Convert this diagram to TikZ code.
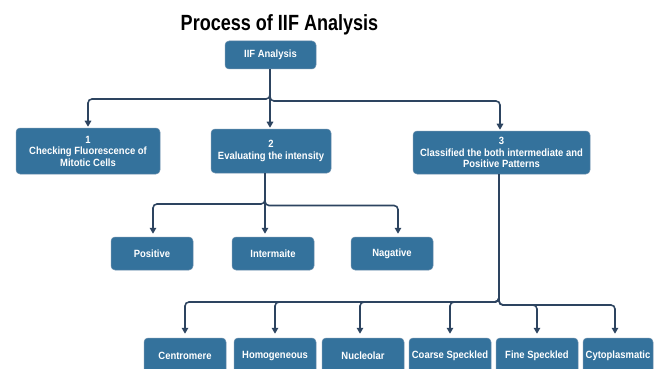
\documentclass[tikz,border=0pt]{standalone}
\usepackage{fontspec}
\setmainfont[FakeStretch=0.9]{Liberation Sans}
\newfontfamily\titlefont[FakeStretch=0.82]{Liberation Sans}
\usetikzlibrary{arrows.meta}
\definecolor{boxblue}{RGB}{52,114,156}
\definecolor{linec}{RGB}{45,68,96}
\definecolor{boxedge}{RGB}{110,145,175}
\tikzset{
  box/.style={fill=boxblue, draw=boxedge, line width=0.5pt, rounded corners=4pt,
    text=white, font=\fontsize{10.5}{11.5}\selectfont\bfseries, align=center, inner sep=0pt},
  leaf/.style={box, minimum width=82pt, minimum height=33pt},
  bleaf/.style={box, minimum width=82pt, minimum height=36pt},
  conn/.style={draw=linec, line width=1.6pt, rounded corners=4pt,
    -{Triangle[width=6.5pt,length=6pt]}},
}
\begin{document}
\begin{tikzpicture}[x=1pt,y=-1pt]
\useasboundingbox (0,0) rectangle (662,369);
\clip (0,0) rectangle (662,369);
\fill[white] (0,0) rectangle (662,369);

\node[font=\titlefont\fontsize{22}{24}\selectfont\bfseries, anchor=base] (title) at (279.5,31) {Process of IIF Analysis};

\node[box, minimum width=91pt, minimum height=28pt] (iif) at (270.5,55) {IIF Analysis};

\node[box, minimum width=144pt, minimum height=46pt] (b1) at (88,151) {1\\Checking Fluorescence of\\Mitotic Cells};
\node[box, minimum width=120pt, minimum height=44pt] (b2) at (271,151) {2\\Evaluating the intensity};
\node[box, minimum width=177pt, minimum height=43pt] (b3) at (501.5,152.5) {3\\Classified the both intermediate and\\Positive Patterns};

\node[leaf] (pos) at (152,253.5) {Positive};
\node[leaf] (int) at (273,253.5) {Intermaite};
\node[leaf] (neg) at (392,253.5) {Nagative};

\node[bleaf] (cen) at (185,356) {Centromere};
\node[bleaf] (hom) at (275,356) {Homogeneous};
\node[bleaf] (nuc) at (363,356) {Nucleolar};
\node[bleaf] (coa) at (450,356) {Coarse Speckled};
\node[bleaf] (fin) at (537,356) {Fine Speckled};
\node[box, minimum width=70pt, minimum height=36pt] (cyt) at (618,356) {Cytoplasmatic};

% top level
\coordinate (t1) at (270,99);
\coordinate (t2) at (270,101);
\draw[conn, shorten >=1pt] (iif.south -| t1) -- (t1) -| (b1.north);
\draw[conn, shorten >=1pt] (iif.south -| t2) -- (t2) -| ([xshift=-1.5pt]b3.north);
\draw[conn, shorten >=1pt] (iif.south -| t1) -- (b2.north -| t1);

% middle level
\coordinate (m1) at (265,204);
\coordinate (m2) at (265,205.5);
\draw[conn, shorten >=3pt] (b2.south -| m1) -- (m1) -| ([xshift=1pt]pos.north);
\draw[conn, shorten >=3pt] (b2.south -| m2) -- (m2) -| ([xshift=6pt]neg.north);
\draw[conn, shorten >=3pt] (b2.south -| m1) -- (int.north -| m1);

% bottom level
\coordinate (k1) at (499,302);
\coordinate (k2) at (499,305);
\draw[conn, shorten >=4pt] (b3.south -| k1) -- (k1) -| (cen.north);
\draw[conn, shorten >=4pt] (b3.south -| k1) -- (k1) -| (hom.north);
\draw[conn, shorten >=4pt] (b3.south -| k1) -- (k1) -| ([xshift=-3pt]nuc.north);
\draw[conn, shorten >=4pt] (b3.south -| k1) -- (k1) -| (coa.north);
\draw[conn, shorten >=4pt] (b3.south -| k2) -- (k2) -| (fin.north);
\draw[conn, shorten >=4pt] (b3.south -| k2) -- (k2) -| ([xshift=-3pt]cyt.north);
\end{tikzpicture}
\end{document}
